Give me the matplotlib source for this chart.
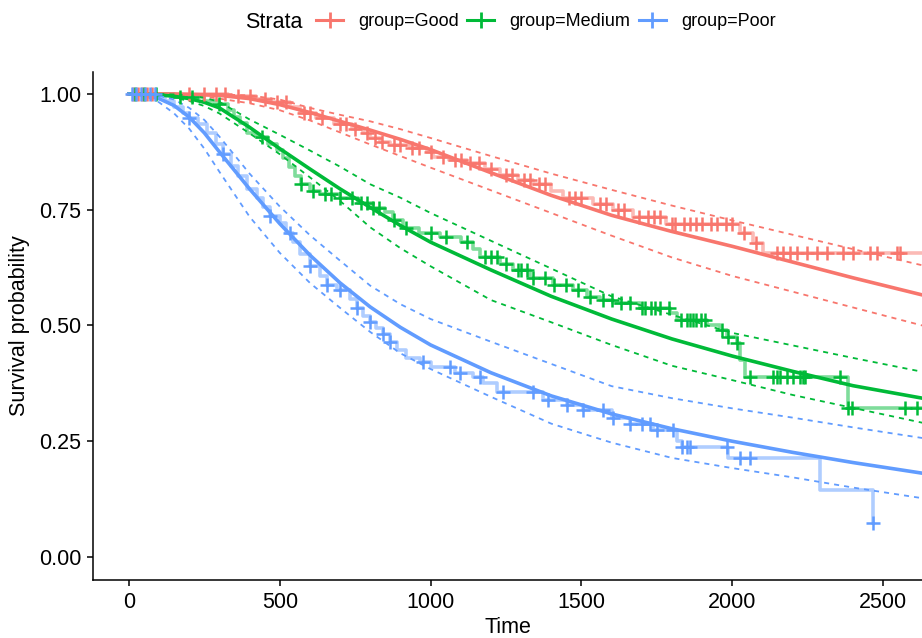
import matplotlib.pyplot as plt
import numpy as np
from matplotlib.lines import Line2D

plt.rcParams['font.family'] = ['Liberation Sans', 'DejaVu Sans']

colors = {'Good': '#F8766D', 'Medium': '#00BA38', 'Poor': '#619CFF'}
groups = ['Good', 'Medium', 'Poor']

# Kaplan-Meier steps: time of drop, survival after drop
km_good_t = [0, 330, 420, 470, 533, 567, 620, 680, 740, 776, 800, 832, 865, 932, 988, 1008,
             1060, 1120, 1180, 1230, 1290, 1340, 1400, 1439, 1538, 1605, 1671, 1780, 2026, 2069, 2102]
km_good_s = [1.0, 0.996, 0.99, 0.982, 0.972, 0.958, 0.948, 0.935, 0.925, 0.915, 0.905, 0.897, 0.89,
             0.883, 0.874, 0.864, 0.858, 0.85, 0.838, 0.826, 0.815, 0.805, 0.79, 0.775, 0.762, 0.75,
             0.734, 0.72, 0.70, 0.678, 0.657]
km_med_t = [0, 150, 250, 300, 330, 350, 368, 391, 420, 460, 490, 510, 530, 550, 570, 600, 633, 700,
            760, 809, 850, 875, 908, 960, 1031, 1100, 1140, 1164, 1230, 1273, 1330, 1406, 1472, 1519,
            1560, 1605, 1694, 1794, 1817, 1916, 1960, 1983, 2016, 2026, 2042, 2384]
km_med_s = [1.0, 0.993, 0.985, 0.978, 0.965, 0.95, 0.937, 0.916, 0.907, 0.893, 0.879, 0.862, 0.842,
            0.822, 0.805, 0.79, 0.783, 0.775, 0.765, 0.754, 0.745, 0.728, 0.711, 0.70, 0.691, 0.68,
            0.665, 0.648, 0.632, 0.62, 0.603, 0.587, 0.577, 0.562, 0.555, 0.549, 0.538, 0.527, 0.512,
            0.501, 0.49, 0.475, 0.462, 0.425, 0.389, 0.322]
km_poor_t = [0, 90, 120, 150, 179, 200, 230, 260, 290, 312, 340, 360, 390, 424, 445, 467, 500, 520,
             545, 567, 600, 633, 656, 690, 733, 756, 776, 799, 820, 842, 865, 888, 920, 965, 1000,
             1080, 1140, 1174, 1220, 1373, 1452, 1505, 1600, 1661, 1737, 1817, 1833, 1986, 2291, 2467]
km_poor_s = [1.0, 0.995, 0.985, 0.972, 0.959, 0.948, 0.935, 0.915, 0.893, 0.87, 0.845, 0.822, 0.795,
             0.775, 0.755, 0.737, 0.721, 0.70, 0.68, 0.655, 0.628, 0.607, 0.588, 0.577, 0.558, 0.537,
             0.52, 0.507, 0.495, 0.482, 0.465, 0.447, 0.43, 0.421, 0.41, 0.397, 0.389, 0.376, 0.357,
             0.339, 0.328, 0.317, 0.30, 0.288, 0.274, 0.25, 0.238, 0.214, 0.145, 0.073]
km_end = {'Good': 2650, 'Medium': 2650, 'Poor': 2467}

# censoring times
cens_good = [15, 30, 45, 60, 75, 200, 250, 290, 320, 360, 400, 450, 490, 520, 580, 600, 640, 700,
             720, 750, 790, 815, 840, 880, 900, 940, 960, 1000, 1040, 1080, 1100, 1130, 1160, 1200,
             1250, 1270, 1310, 1330, 1360, 1380, 1460, 1480, 1500, 1560, 1580, 1620, 1640, 1690,
             1720, 1740, 1760, 1800, 1810, 1840, 1860, 1880, 1900, 1930, 1950, 1980, 2000, 2040,
             2080, 2148, 2168, 2192, 2215, 2248, 2281, 2314, 2367, 2400, 2457, 2480, 2546, 2556]
cens_med = [20, 50, 90, 170, 210, 300, 440, 570, 610, 650, 670, 700, 740, 770, 790, 810, 830, 880,
            920, 1000, 1050, 1120, 1180, 1200, 1220, 1250, 1290, 1300, 1320, 1340, 1380, 1410, 1450,
            1490, 1530, 1570, 1600, 1630, 1660, 1700, 1710, 1730, 1745, 1760, 1790, 1830, 1850, 1860,
            1870, 1880, 1895, 1910, 1966, 1986, 2016, 2059, 2135, 2148, 2158, 2182, 2202, 2225, 2235,
            2241, 2357, 2384, 2397, 2573, 2613]
cens_poor = [10, 25, 40, 55, 70, 85, 200, 312, 467, 533, 600, 656, 700, 756, 799, 842, 865, 975,
             1064, 1097, 1164, 1240, 1340, 1390, 1452, 1505, 1572, 1605, 1661, 1700, 1727, 1751,
             1804, 1833, 1850, 1860, 1983, 2026, 2059, 2467]

# parametric fit with confidence band
fit_t = [0, 50, 100, 150, 200, 250, 300, 400, 500, 600, 700, 800, 900, 1000, 1200, 1400, 1600,
         1800, 2000, 2200, 2400, 2630]
fit_good = [1.0, 1.0, 1.0, 1.0, 0.999, 0.998, 0.997, 0.99, 0.977, 0.96, 0.941, 0.922, 0.902, 0.88,
            0.83, 0.781, 0.738, 0.703, 0.671, 0.637, 0.603, 0.566]
lo_good = [1.0, 1.0, 1.0, 0.999, 0.997, 0.994, 0.99, 0.98, 0.965, 0.943, 0.917, 0.891, 0.866, 0.841,
           0.792, 0.743, 0.694, 0.647, 0.607, 0.573, 0.539, 0.50]
up_good = [1.0, 1.0, 1.0, 1.0, 1.0, 1.0, 0.999, 0.997, 0.988, 0.97, 0.955, 0.941, 0.924, 0.905,
           0.866, 0.828, 0.793, 0.759, 0.727, 0.696, 0.665, 0.63]
fit_med = [1.0, 1.0, 0.998, 0.995, 0.99, 0.982, 0.97, 0.928, 0.882, 0.838, 0.795, 0.755, 0.716,
           0.68, 0.62, 0.563, 0.514, 0.471, 0.434, 0.401, 0.37, 0.343]
lo_med = [1.0, 0.999, 0.997, 0.992, 0.985, 0.974, 0.958, 0.915, 0.87, 0.82, 0.769, 0.712, 0.667,
          0.628, 0.555, 0.507, 0.458, 0.413, 0.382, 0.35, 0.322, 0.29]
up_med = [1.0, 1.0, 1.0, 0.999, 0.997, 0.992, 0.983, 0.945, 0.912, 0.878, 0.843, 0.805, 0.776,
          0.743, 0.683, 0.623, 0.563, 0.523, 0.484, 0.457, 0.43, 0.40]
fit_poor = [1.0, 0.998, 0.99, 0.975, 0.95, 0.916, 0.875, 0.795, 0.72, 0.652, 0.592, 0.54, 0.496,
            0.458, 0.398, 0.348, 0.309, 0.277, 0.25, 0.226, 0.204, 0.181]
lo_poor = [1.0, 0.996, 0.982, 0.958, 0.925, 0.882, 0.832, 0.735, 0.657, 0.592, 0.538, 0.486, 0.44,
           0.406, 0.346, 0.288, 0.247, 0.214, 0.192, 0.172, 0.15, 0.127]
up_poor = [1.0, 0.999, 0.996, 0.988, 0.97, 0.944, 0.908, 0.828, 0.757, 0.695, 0.64, 0.586, 0.546,
           0.514, 0.465, 0.417, 0.369, 0.343, 0.321, 0.301, 0.28, 0.257]

km = {'Good': (km_good_t, km_good_s), 'Medium': (km_med_t, km_med_s), 'Poor': (km_poor_t, km_poor_s)}
cens = {'Good': cens_good, 'Medium': cens_med, 'Poor': cens_poor}
fits = {'Good': (fit_good, lo_good, up_good), 'Medium': (fit_med, lo_med, up_med),
        'Poor': (fit_poor, lo_poor, up_poor)}

fig = plt.figure(figsize=(9.22, 6.38), dpi=100)
ax = fig.add_axes([93/922, 58/638, 829/922, 508/638])

for g in groups:
    c = colors[g]
    kt, ks = km[g]
    t = np.append(kt, km_end[g])
    s = np.append(ks, ks[-1])
    ax.step(t, s, where='post', color=c, alpha=0.5, lw=2.6, zorder=2)
    idx = np.searchsorted(kt, cens[g], side='right') - 1
    ax.plot(cens[g], np.array(ks)[idx], ls='none', marker='+', ms=10, mew=1.8, color=c, zorder=4)
    f, lo, up = fits[g]
    ax.plot(fit_t, f, color=c, lw=2.6, zorder=3)
    ax.plot(fit_t, lo, color=c, lw=1.3, ls=(0, (2.8, 2.8)), zorder=3)
    ax.plot(fit_t, up, color=c, lw=1.3, ls=(0, (2.8, 2.8)), zorder=3)

ax.set_xlim(-119, 2629)
ax.set_ylim(-0.0497, 1.0475)
ax.set_xticks([0, 500, 1000, 1500, 2000, 2500])
ax.set_yticks([0, 0.25, 0.5, 0.75, 1.0])
ax.set_yticklabels(['0.00', '0.25', '0.50', '0.75', '1.00'])
for s in ['top', 'right']:
    ax.spines[s].set_visible(False)
for s in ['left', 'bottom']:
    ax.spines[s].set_linewidth(1.1)
ax.tick_params(length=4.5, width=1.1, labelsize=15.5, pad=4, colors='black')
ax.set_xlabel('Time', fontsize=15.5, labelpad=3)
ax.set_ylabel('Survival probability', fontsize=15.5, labelpad=6)

fig.text(245/922, 1 - 22/638, 'Strata', fontsize=15.5, va='center', ha='left')
handles = [Line2D([0], [0], color=colors[g], lw=2.2, marker='+', ms=11, mew=2) for g in groups]
fig.legend(handles, ['group=' + g for g in groups], loc='center left',
           bbox_to_anchor=(316/922, 1 - 22/638), ncol=3, frameon=False, fontsize=13,
           handlelength=1.5, handletextpad=0.85, columnspacing=0.45, borderaxespad=0, borderpad=0)

fig.savefig('out.png', dpi=100)
